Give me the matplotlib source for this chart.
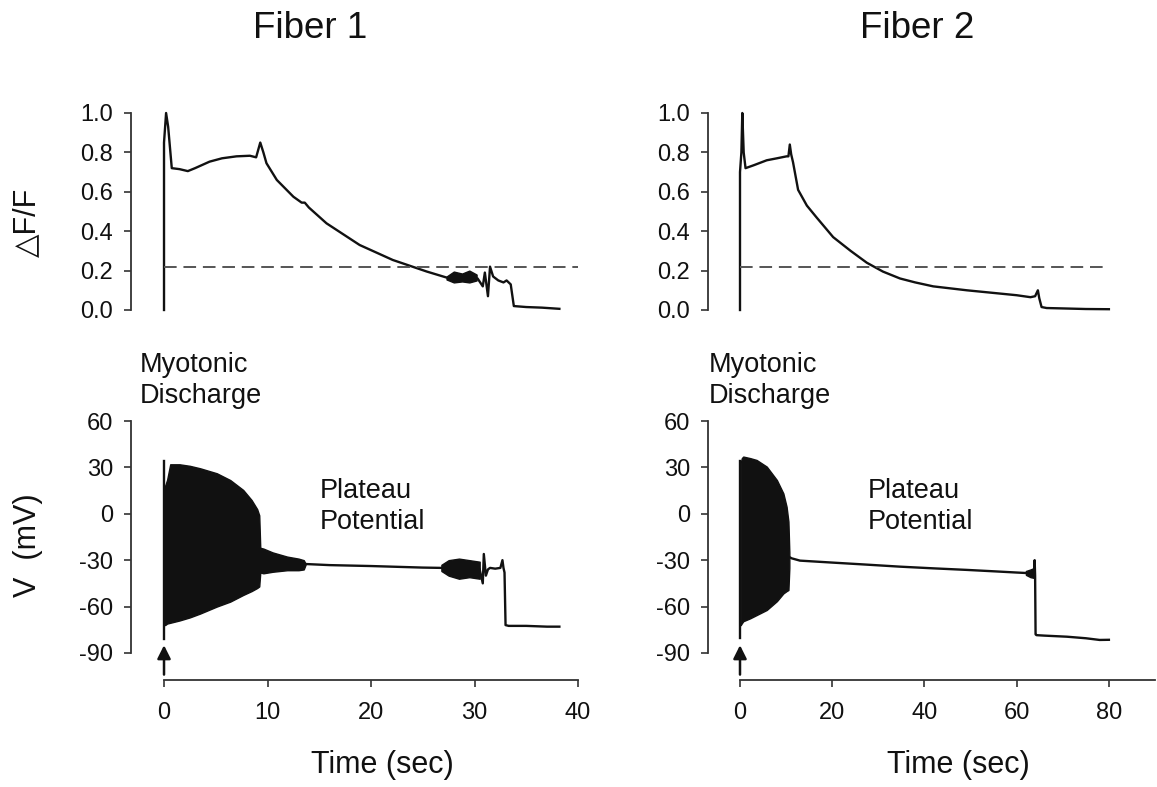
import numpy as np
import matplotlib
matplotlib.use('Agg')
import matplotlib.pyplot as plt

plt.rcParams['font.family'] = ['Liberation Sans', 'DejaVu Sans']
plt.rcParams['axes.unicode_minus'] = False

# ---- Fiber 1 : fluorescence (dF/F) ----
f1_df_t = [0, 0, 0.2, 0.4, 0.75, 1.5, 2.3, 3.0, 4.4, 5.6, 7.0, 8.3, 8.9, 9.3, 9.6, 9.9,
           10.9, 12.5, 13.3, 13.6, 14.0, 15.7, 18.9, 22.1, 25.4, 27.6, 29.0, 30.3, 30.8,
           31.0, 31.3, 31.5, 31.8, 32.3, 32.8, 33.1, 33.5, 33.8, 35.0, 36.5, 38.2]
f1_df_v = [0, 0.85, 1.0, 0.93, 0.72, 0.715, 0.705, 0.72, 0.753, 0.77, 0.78, 0.783, 0.775,
           0.85, 0.80, 0.745, 0.66, 0.575, 0.545, 0.545, 0.52, 0.44, 0.33, 0.254, 0.195,
           0.16, 0.165, 0.16, 0.12, 0.19, 0.07, 0.22, 0.17, 0.15, 0.14, 0.15, 0.13, 0.02,
           0.015, 0.012, 0.006]
# noisy part near 28-30 s
f1_df_noise_t = [27.3, 28.0, 28.8, 29.5, 30.2]
f1_df_noise_lo = [0.155, 0.14, 0.145, 0.14, 0.15]
f1_df_noise_hi = [0.17, 0.195, 0.185, 0.2, 0.18]

# ---- Fiber 1 : membrane potential (mV) ----
f1_spike_v = [-81, 34]
f1_burst_t = [0.1, 0.3, 0.6, 1.5, 2.5, 3.5, 5.1, 6.4, 7.65, 8.46, 9.0, 9.2, 9.3]
f1_burst_hi = [18, 22, 32, 32, 31, 29.4, 26.2, 21.8, 15.4, 8.9, 3, -1, -22]
f1_burst_lo = [-72, -71, -70.5, -69, -67, -64.5, -60, -56.8, -52.5, -50, -48, -47, -38]
f1_tail_t = [9.3, 9.6, 10.5, 11.9, 13.0, 13.5, 13.7]
f1_tail_hi = [-22, -22.5, -25, -27.7, -29, -30, -32.5]
f1_tail_lo = [-38, -38.5, -37.5, -36.5, -36.5, -36, -32.5]
f1_plat_t = [13.7, 16, 20, 25, 26.8]
f1_plat_v = [-32.5, -33.2, -33.8, -34.8, -35]
f1_late_t = [26.8, 27.5, 28.5, 29.5, 30.5]
f1_late_hi = [-33, -30, -29, -30, -31]
f1_late_lo = [-37, -40, -42, -41, -42]
f1_end_t = [30.5, 30.8, 30.9, 31.1, 31.3, 31.5, 32.0, 32.5, 32.7, 32.8, 32.9, 33.0, 33.3, 35, 37, 38.2]
f1_end_v = [-36, -45, -26, -40, -36, -35, -35.5, -35, -30, -35, -38, -72, -72.5, -72.5, -73, -73]

# ---- Fiber 2 : fluorescence (dF/F) ----
f2_df_t = [0, 0, 0.3, 0.5, 0.8, 1.2, 3.0, 5.8, 8.0, 10.1, 10.5, 10.8, 11.1, 11.5, 12.6,
           14.5, 16.6, 20.2, 24.0, 27.5, 31.0, 34.7, 38.0, 41.9, 49.2, 55.7, 60.0, 63.0,
           64.0, 64.6, 64.9, 65.4, 66.5, 70, 75, 80]
f2_df_v = [0, 0.7, 0.8, 1.0, 0.8, 0.72, 0.735, 0.76, 0.77, 0.78, 0.78, 0.84, 0.79, 0.75,
           0.61, 0.53, 0.47, 0.37, 0.3, 0.24, 0.195, 0.16, 0.14, 0.12, 0.10, 0.085, 0.075,
           0.065, 0.07, 0.10, 0.06, 0.015, 0.01, 0.008, 0.005, 0.004]

# ---- Fiber 2 : membrane potential (mV) ----
f2_spike_v = [-80.5, 34]
f2_burst_t = [0.15, 0.4, 0.7, 2.2, 3.6, 5.8, 8.0, 9.4, 10.1, 10.5, 10.7]
f2_burst_hi = [33, 36, 37, 36, 34.8, 30.5, 21.8, 13.2, 4.6, -5, -25]
f2_burst_lo = [-72, -70.8, -69.5, -67.6, -65.5, -62.2, -56.5, -51.5, -50, -49.3, -35]
f2_plat_t = [10.7, 11.2, 13, 20.2, 27, 34.7, 42, 49.2, 55, 60, 62]
f2_plat_v = [-28, -28.8, -30.3, -31.6, -32.8, -34.2, -35.3, -36.3, -37.2, -38, -38.3]
f2_late_t = [62, 63, 63.8]
f2_late_hi = [-37, -36, -35]
f2_late_lo = [-39.5, -41, -41.5]
f2_end_t = [63.8, 63.9, 64.0, 64.1, 64.3, 66, 70.9, 75, 78, 80]
f2_end_v = [-38, -30, -40, -78, -78.5, -78.8, -79.5, -80.5, -81.6, -81.5]

threshold = 0.22
df_ticks = [0.0, 0.2, 0.4, 0.6, 0.8, 1.0]
v_ticks = [-90, -60, -30, 0, 30, 60]
f1_time_ticks = [0, 10, 20, 30, 40]
f2_time_ticks = [0, 20, 40, 60, 80]

W, H = 1157, 787
fig = plt.figure(figsize=(W / 100, H / 100), dpi=100)
ink = '#111111'
axcol = '#333333'
lw = 1.7


def ax_at(x0, x1, y0, y1):
    return fig.add_axes([x0 / W, 1 - y1 / H, (x1 - x0) / W, (y1 - y0) / H])


def label(x, y, s, size, **kw):
    fig.text(x / W, 1 - y / H, s, fontsize=size, color=ink, **kw)


def style(ax, ticks, bounds):
    for s in ['top', 'right']:
        ax.spines[s].set_visible(False)
    ax.spines['left'].set_bounds(bounds[0], bounds[-1])
    ax.spines['left'].set_color(axcol)
    ax.spines['left'].set_linewidth(1.3)
    ax.set_yticks(ticks)
    ax.tick_params(axis='y', direction='out', length=5, width=1.2, color=axcol,
                   labelsize=17, pad=8, labelcolor=ink)
    ax.patch.set_visible(False)


def top_panel(ax, t, v, xmax, ticks):
    style(ax, ticks, ticks)
    ax.spines['bottom'].set_visible(False)
    ax.set_xticks([])
    ax.set_yticklabels(['%.1f' % x for x in ticks])
    ax.plot(t, v, color=ink, lw=lw, clip_on=False)
    ax.plot([0, xmax], [threshold, threshold], color='#555555', lw=1.4,
            dashes=(6.5, 3.5))
    ax.set_ylim(0, 1)


def bottom_panel(ax, xmax, ticks):
    style(ax, v_ticks, v_ticks)
    ax.spines['bottom'].set_bounds(0, xmax)
    ax.spines['bottom'].set_color(axcol)
    ax.spines['bottom'].set_linewidth(1.3)
    ax.set_xticks(ticks)
    ax.tick_params(axis='x', direction='out', length=5, width=1.2, color=axcol,
                   labelsize=17, pad=11, labelcolor=ink)
    ax.set_ylim(-107.5, 60)
    # stimulus arrow
    ax.annotate('', xy=(0, -85), xytext=(0, -104),
                arrowprops=dict(arrowstyle='-|>', lw=1.8, color=ink,
                                mutation_scale=20, shrinkA=0, shrinkB=0))


# Fiber 1
ax1 = ax_at(131, 578, 113, 310)
ax1.set_xlim(-3.19, 40)
top_panel(ax1, f1_df_t, f1_df_v, 40, df_ticks)
ax1.fill_between(f1_df_noise_t, f1_df_noise_lo, f1_df_noise_hi, color=ink, lw=1)

ax2 = ax_at(131, 578, 421, 680)
ax2.set_xlim(-3.19, 40)
bottom_panel(ax2, 40, f1_time_ticks)
ax2.plot([0, 0], f1_spike_v, color=ink, lw=lw)
ax2.fill_between(f1_burst_t, f1_burst_lo, f1_burst_hi, color=ink, lw=1)
ax2.fill_between(f1_tail_t, f1_tail_lo, f1_tail_hi, color=ink, lw=1)
ax2.plot(f1_plat_t, f1_plat_v, color=ink, lw=lw)
ax2.fill_between(f1_late_t, f1_late_lo, f1_late_hi, color=ink, lw=1)
ax2.plot(f1_end_t, f1_end_v, color=ink, lw=lw)

# Fiber 2
ax3 = ax_at(708, 1155, 113, 310)
ax3.set_xlim(-6.94, 90)
top_panel(ax3, f2_df_t, f2_df_v, 80, df_ticks)

ax4 = ax_at(708, 1155, 421, 680)
ax4.set_xlim(-6.94, 90)
bottom_panel(ax4, 90, f2_time_ticks)
ax4.plot([0, 0], f2_spike_v, color=ink, lw=lw)
ax4.fill_between(f2_burst_t, f2_burst_lo, f2_burst_hi, color=ink, lw=1)
ax4.plot(f2_plat_t, f2_plat_v, color=ink, lw=lw)
ax4.fill_between(f2_late_t, f2_late_lo, f2_late_hi, color=ink, lw=1)
ax4.plot(f2_end_t, f2_end_v, color=ink, lw=lw)

# texts
label(310, 38, 'Fiber 1', 26.5, ha='center', va='baseline')
label(917, 38, 'Fiber 2', 26.5, ha='center', va='baseline')
label(27, 222, '\u25b3F/F', 22, ha='center', va='center', rotation=90)
label(28, 545, 'V  (mV)', 22, ha='center', va='center', rotation=90)
for x in (140, 709):
    label(x, 372, 'Myotonic', 19.5, ha='left', va='baseline')
    label(x, 403, 'Discharge', 19.5, ha='left', va='baseline')
for x in (320, 868):
    label(x, 498, 'Plateau', 19.5, ha='left', va='baseline')
    label(x, 529, 'Potential', 19.5, ha='left', va='baseline')
label(382, 773, 'Time (sec)', 22, ha='center', va='baseline')
label(958, 773, 'Time (sec)', 22, ha='center', va='baseline')

fig.savefig('out.png', dpi=100, facecolor='white')
